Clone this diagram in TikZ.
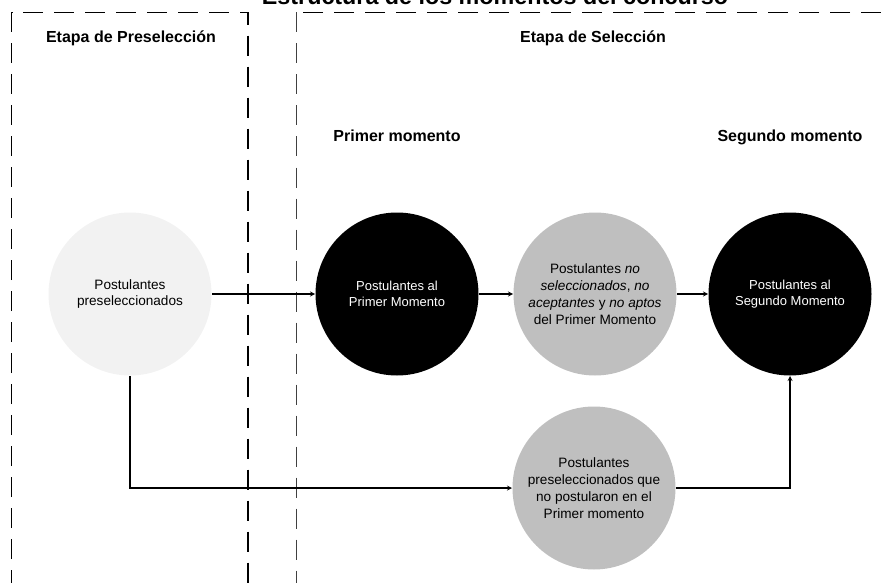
\documentclass[tikz,border=0pt]{standalone}
\usepackage{fontspec}
\setmainfont{Liberation Sans}
\usetikzlibrary{arrows}
\newlength{\du}
\setlength{\du}{10\unitlength}
\tikzset{
  circclaro/.style={circle,fill=claro,text=black,minimum size=16.300000\du,inner sep=0pt,align=center,font=\fontsize{13.6}{16.8}\selectfont},
  circnegro/.style={circle,fill=black,text=white,minimum size=16.300000\du,inner sep=0pt,align=center,font=\fontsize{13}{16.7}\selectfont},
  circgris/.style={circle,fill=gris,text=black,minimum size=16.300000\du,inner sep=0pt,align=center,font=\fontsize{13.6}{16.8}\selectfont},
  etapa/.style={anchor=base,font=\fontsize{16}{19}\selectfont\bfseries},
  borde/.style={dash pattern=on 2.000000\du off 1.100000\du}
}
\definecolor{claro}{rgb}{0.949020, 0.949020, 0.949020}
\definecolor{gris}{rgb}{0.749020, 0.749020, 0.749020}
\begin{document}
\begin{tikzpicture}
\pgftransformxscale{1.000000}
\pgftransformyscale{-1.000000}
\useasboundingbox (0.000000\du,0.000000\du) rectangle (88.100000\du,58.300000\du);
\definecolor{dialinecolor}{rgb}{0.000000, 0.000000, 0.000000}
\pgfsetstrokecolor{dialinecolor}
% setfont left to latex
\node[anchor=base,font=\fontsize{23.3}{27}\selectfont\bfseries] (titulo) at (49.500000\du,0.500000\du){Estructura de los momentos del concurso};
% etapas
\pgfsetlinewidth{0.140000\du}
\draw[borde] (1.170000\du,59.000000\du)--(1.170000\du,1.250000\du)--(24.800000\du,1.250000\du)--(24.800000\du,59.000000\du);
\pgfsetlinewidth{0.120000\du}
\draw[borde] (88.100000\du,1.250000\du)--(29.600000\du,1.250000\du);
\definecolor{dialinecolor}{rgb}{0.250000, 0.250000, 0.250000}
\pgfsetstrokecolor{dialinecolor}
\pgfsetlinewidth{0.100000\du}
\draw[borde] (29.600000\du,1.250000\du)--(29.600000\du,59.000000\du);
\definecolor{dialinecolor}{rgb}{0.000000, 0.000000, 0.000000}
\pgfsetstrokecolor{dialinecolor}
\node[etapa] (pre) at (13.100000\du,4.300000\du){Etapa de Preselección};
\node[etapa] (sel) at (59.300000\du,4.300000\du){Etapa de Selección};
\node[etapa] (primero) at (39.700000\du,14.200000\du){Primer momento};
\node[etapa] (segundo) at (79.000000\du,14.200000\du){Segundo momento};
% circulos
\node[circclaro] (presel) at (13.000000\du,29.400000\du){Postulantes\\preseleccionados};
\node[circnegro] (pm1) at (39.700000\du,29.400000\du){Postulantes al\\Primer Momento};
\node[circgris] (nosel) at (59.500000\du,29.400000\du){Postulantes \textit{no}\\\textit{seleccionados}, \textit{no}\\\textit{aceptantes} y \textit{no aptos}\\del Primer Momento};
\node[circnegro] (pm2) at (79.000000\du,29.400000\du){Postulantes al\\Segundo Momento};
\node[circgris] (nopost) at (59.400000\du,48.800000\du){Postulantes\\preseleccionados que\\no postularon en el\\Primer momento};
\pgfsetlinewidth{0.120000\du}
\pgfsetdash{}{0pt}
\pgfsetbuttcap
{
\pgfsetarrowsend{stealth}
\draw (presel)--(pm1);
\draw (pm1)--(nosel);
\draw (nosel)--(pm2);
\draw (presel.south)|-(nopost);
\draw (nopost)-|(pm2.south);
}
\end{tikzpicture}
\end{document}
